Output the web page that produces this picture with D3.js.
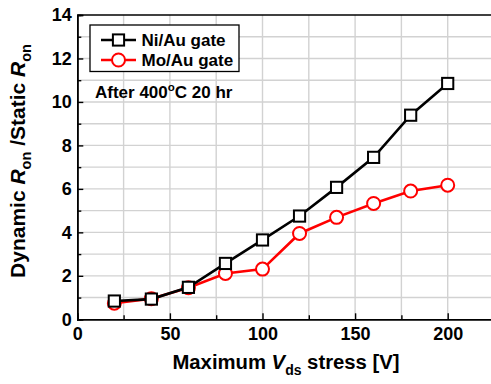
<!DOCTYPE html>
<html>
<head>
<meta charset="utf-8">
<script src="https://cdn.jsdelivr.net/npm/d3@7"></script>
<style>
  html, body { margin: 0; padding: 0; background: #fff; overflow: hidden; }
  text { font-family: "Liberation Sans", Arial, sans-serif; font-weight: bold; fill: #000; }
</style>
</head>
<body>
<svg id="chart" width="491" height="384"></svg>
<script>
// Stress voltage (V) and normalized on-resistance for each gate metal
const vdsStress = [20, 40, 60, 80, 100, 120, 140, 160, 180, 200];
const niAuRatio = [0.84, 0.93, 1.47, 2.57, 3.65, 4.75, 6.07, 7.45, 9.39, 10.85];
const moAuRatio = [0.74, 0.95, 1.45, 2.11, 2.31, 3.95, 4.69, 5.33, 5.9, 6.17];
const xTickValues = [0, 50, 100, 150, 200];
const yTickValues = [0, 2, 4, 6, 8, 10, 12, 14];

const svg = d3.select("#chart");
const plotLeft = 77.3, plotTop = 15, plotBottom = 319.3;
const x = d3.scaleLinear().domain([0, 225]).range([plotLeft, plotLeft + 4.5 * 92.6]);
const y = d3.scaleLinear().domain([0, 14]).range([plotBottom, plotTop]);
const plotRight = x(225);

// grid
const grid = svg.append("g").attr("stroke", "#d2d2d2").attr("stroke-width", 1.4);
grid.selectAll("line.h").data(d3.range(1, 14)).join("line").attr("class", "h")
  .attr("x1", plotLeft).attr("x2", plotRight).attr("y1", d => y(d)).attr("y2", d => y(d));
grid.selectAll("line.v").data(d3.range(25, 225, 25)).join("line").attr("class", "v")
  .attr("y1", plotTop).attr("y2", plotBottom).attr("x1", d => x(d)).attr("x2", d => x(d));

// axes with inward ticks
const xAxis = d3.axisBottom(x).tickValues(xTickValues).tickSize(-6).tickPadding(8).tickFormat(d3.format("d"));
const xMinor = d3.axisBottom(x).tickValues(d3.range(25, 225, 50)).tickSize(-4).tickFormat("");
const yAxis = d3.axisLeft(y).tickValues(yTickValues).tickSize(-6).tickPadding(5.5).tickFormat(d3.format("d"));
const yMinor = d3.axisLeft(y).tickValues(d3.range(1, 14, 2)).tickSize(-4).tickFormat("");

function styleAxis(g) {
  g.select(".domain").attr("stroke", "#000").attr("stroke-width", 1.6);
  g.selectAll(".tick line").attr("stroke", "#000").attr("stroke-width", 1.4);
  g.selectAll(".tick text").attr("font-size", 18).attr("font-family", "Liberation Sans, Arial, sans-serif").attr("font-weight", "bold").attr("fill", "#000");
}
svg.append("g").attr("transform", `translate(0,${plotBottom})`).call(xAxis).call(styleAxis);
svg.append("g").attr("transform", `translate(0,${plotBottom})`).call(xMinor).call(styleAxis);
svg.append("g").attr("transform", `translate(${plotLeft},0)`).call(yAxis).call(styleAxis);
svg.append("g").attr("transform", `translate(${plotLeft},0)`).call(yMinor).call(styleAxis);
svg.append("line").attr("x1", plotLeft).attr("x2", plotRight).attr("y1", plotTop).attr("y2", plotTop)
  .attr("stroke", "#000").attr("stroke-width", 1.6);

// series
const series = [
  { values: moAuRatio, color: "#ff0000", shape: "circle" },
  { values: niAuRatio, color: "#000000", shape: "square" }
];
const line = d3.line().x(d => x(d[0])).y(d => y(d[1]));
series.forEach(s => {
  const pts = vdsStress.map((v, i) => [v, s.values[i]]);
  svg.append("path").datum(pts).attr("d", line).attr("fill", "none")
    .attr("stroke", s.color).attr("stroke-width", 2.6);
  if (s.shape === "circle") {
    svg.append("g").selectAll("circle").data(pts).join("circle")
      .attr("cx", d => x(d[0])).attr("cy", d => y(d[1])).attr("r", 6.5)
      .attr("fill", "#fff").attr("stroke", s.color).attr("stroke-width", 2);
  } else {
    svg.append("g").selectAll("rect").data(pts).join("rect")
      .attr("x", d => x(d[0]) - 5.6).attr("y", d => y(d[1]) - 5.6)
      .attr("width", 11.2).attr("height", 11.2)
      .attr("fill", "#fff").attr("stroke", s.color).attr("stroke-width", 2);
  }
});

// legend
const legend = svg.append("g");
legend.append("rect").attr("x", 90).attr("y", 25).attr("width", 149).attr("height", 46.5)
  .attr("fill", "#fff").attr("stroke", "#000").attr("stroke-width", 1.3);
const entries = [
  { label: "Ni/Au gate", color: "#000", shape: "square", yy: 40 },
  { label: "Mo/Au gate", color: "#ff0000", shape: "circle", yy: 60 }
];
entries.forEach(e => {
  legend.append("line").attr("x1", 101).attr("x2", 136).attr("y1", e.yy).attr("y2", e.yy)
    .attr("stroke", e.color).attr("stroke-width", 2.6);
  if (e.shape === "square") {
    legend.append("rect").attr("x", 118.5 - 5.6).attr("y", e.yy - 5.6).attr("width", 11.2).attr("height", 11.2)
      .attr("fill", "#fff").attr("stroke", e.color).attr("stroke-width", 2);
  } else {
    legend.append("circle").attr("cx", 118.5).attr("cy", e.yy).attr("r", 6.5)
      .attr("fill", "#fff").attr("stroke", e.color).attr("stroke-width", 2);
  }
  legend.append("text").attr("x", 141.5).attr("y", e.yy + 6).attr("font-size", 17).text(e.label);
});

// annotation
const note = svg.append("text").attr("x", 95).attr("y", 98).attr("font-size", 17);
note.append("tspan").text("After 400");
note.append("tspan").attr("font-size", 11.5).attr("dy", -7.5).text("o");
note.append("tspan").attr("dy", 7.5).text("C 20 hr");

// axis titles
const xt = svg.append("text").attr("x", 286).attr("y", 369).attr("text-anchor", "middle").attr("font-size", 20.3);
xt.append("tspan").text("Maximum ");
xt.append("tspan").attr("font-style", "italic").text("V");
xt.append("tspan").attr("font-size", 14).attr("dy", 6).text("ds");
xt.append("tspan").attr("dy", -6).text(" stress [V]");

const yt = svg.append("text").attr("transform", "translate(25,161) rotate(-90)")
  .attr("text-anchor", "middle").attr("font-size", 21);
yt.append("tspan").text("Dynamic ");
yt.append("tspan").attr("font-style", "italic").text("R");
yt.append("tspan").attr("font-size", 14.5).attr("dy", 6).text("on");
yt.append("tspan").attr("dy", -6).text(" /Static ");
yt.append("tspan").attr("font-style", "italic").text("R");
yt.append("tspan").attr("font-size", 14.5).attr("dy", 6).text("on");
</script>
</body>
</html>
